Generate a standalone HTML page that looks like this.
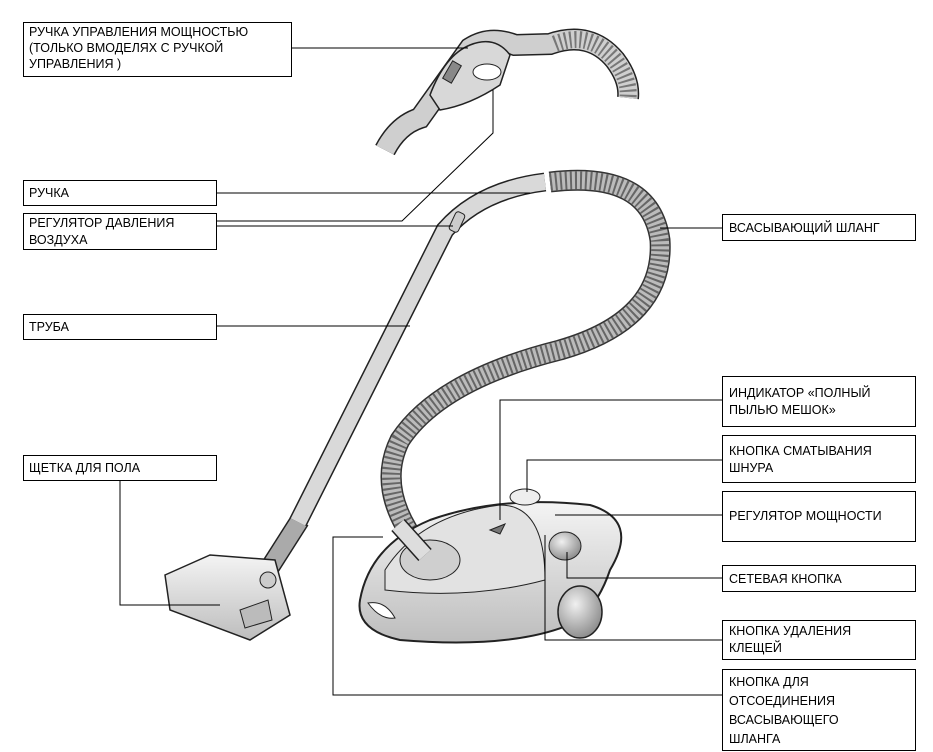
<!DOCTYPE html>
<html><head><meta charset="utf-8"><style>
body{margin:0;background:#fff}
svg{display:block}
text{font-family:"Liberation Sans",Arial,sans-serif;font-size:12.5px;fill:#000}
</style></head><body>
<svg width="933" height="752" viewBox="0 0 933 752" xmlns="http://www.w3.org/2000/svg">
<defs>
<linearGradient id="g1" x1="0" y1="0" x2="0" y2="1"><stop offset="0" stop-color="#f4f4f4"/><stop offset="1" stop-color="#bdbdbd"/></linearGradient>
<radialGradient id="g2" cx="0.4" cy="0.35" r="0.7"><stop offset="0" stop-color="#f0f0f0"/><stop offset="1" stop-color="#888"/></radialGradient>
</defs>
<!-- top handle -->
<path d="M385,150 Q398,125 420,118 L470,48 Q490,35 515,45 L550,44 Q590,30 615,60 Q630,80 628,98" fill="none" stroke="#222" stroke-width="22"/>
<path d="M385,150 Q398,125 420,118 L470,48 Q490,35 515,45 L550,44 Q590,30 615,60 Q630,80 628,98" fill="none" stroke="#cfcfcf" stroke-width="19"/>
<path d="M555,44 Q590,30 615,60 Q630,80 628,98" fill="none" stroke="#777" stroke-width="17" stroke-dasharray="2 3"/>
<path d="M430,95 Q445,55 470,45 Q495,35 510,55 L500,85 Q470,105 440,110 Z" fill="#d8d8d8" stroke="#222" stroke-width="1.5"/>
<ellipse cx="487" cy="72" rx="14" ry="8" fill="#fff" stroke="#222"/>
<rect x="447" y="62" width="10" height="20" fill="#888" stroke="#222" transform="rotate(30 452 72)"/>
<!-- stick handle & pipe -->
<path d="M265,575 L300,520" fill="none" stroke="#222" stroke-width="20"/>
<path d="M265,575 L300,520" fill="none" stroke="#aaa" stroke-width="17"/>
<path d="M298,522 L445,230 Q480,190 545,182" fill="none" stroke="#222" stroke-width="19"/>
<path d="M298,522 L445,230 Q480,190 545,182" fill="none" stroke="#d9d9d9" stroke-width="16"/>
<rect x="452" y="212" width="10" height="20" rx="3" fill="#ccc" stroke="#222" transform="rotate(25 457 222)"/>
<!-- hose -->
<path d="M550,182 Q650,170 660,240 Q665,320 560,350 Q440,380 400,440 Q375,490 420,548" fill="none" stroke="#333" stroke-width="21"/>
<path d="M550,182 Q650,170 660,240 Q665,320 560,350 Q440,380 400,440 Q375,490 420,548" fill="none" stroke="#bbb" stroke-width="18"/>
<path d="M550,182 Q650,170 660,240 Q665,320 560,350 Q440,380 400,440 Q375,490 420,548" fill="none" stroke="#666" stroke-width="18" stroke-dasharray="2 3"/>
<!-- body -->
<path d="M360,600 Q370,545 430,520 Q500,495 590,505 Q640,520 610,570 Q600,600 580,620 Q520,650 400,640 Q355,630 360,600 Z" fill="url(#g1)" stroke="#222" stroke-width="2"/>
<path d="M385,570 Q420,515 500,505 Q545,505 545,580 Q470,600 385,590 Z" fill="#e2e2e2" stroke="#222"/>
<ellipse cx="430" cy="560" rx="30" ry="20" fill="#cfcfcf" stroke="#222"/>
<path d="M398,525 L425,555" stroke="#222" stroke-width="18"/>
<path d="M398,525 L425,555" stroke="#ddd" stroke-width="15"/>
<ellipse cx="525" cy="497" rx="15" ry="8" fill="#eee" stroke="#222"/>
<path d="M490,530 L505,524 L500,534 Z" fill="#777" stroke="#222"/>
<ellipse cx="565" cy="546" rx="16" ry="14" fill="url(#g2)" stroke="#222"/>
<ellipse cx="580" cy="612" rx="22" ry="26" fill="url(#g2)" stroke="#222" stroke-width="1.5"/>
<path d="M368,603 Q380,620 395,618 Q385,600 368,603Z" fill="#fff" stroke="#222"/>
<!-- brush -->
<path d="M165,575 L210,555 L275,560 L290,615 L250,640 L170,610 Z" fill="url(#g1)" stroke="#222" stroke-width="1.5"/>
<path d="M240,610 L268,600 L272,620 L245,628 Z" fill="#bbb" stroke="#222"/>
<circle cx="268" cy="580" r="8" fill="#ccc" stroke="#222"/>
<!-- leader lines -->
<g fill="none" stroke="#000" stroke-width="1">
<path d="M291,48 H468"/>
<path d="M216,221 H402 L493,133 V90"/>
<path d="M216,226 H453"/>
<path d="M216,193 H530"/>
<path d="M216,326 H410"/>
<path d="M120,480 V605 H220"/>
<path d="M660,228 H723"/>
<path d="M723,400 H500 V520"/>
<path d="M723,460 H527 V492"/>
<path d="M723,515 H555"/>
<path d="M723,578 H567 V552"/>
<path d="M723,640 H545 V535"/>
<path d="M723,695 H333 V537 H383"/>
</g>
<!-- boxes -->
<g fill="#fff" stroke="#000" stroke-width="1">
<rect x="23.5" y="22.5" width="268" height="54"/>
<rect x="23.5" y="180.5" width="193" height="25"/>
<rect x="23.5" y="213.5" width="193" height="36"/>
<rect x="23.5" y="314.5" width="193" height="25"/>
<rect x="23.5" y="455.5" width="193" height="25"/>
<rect x="722.5" y="214.5" width="193" height="26"/>
<rect x="722.5" y="376.5" width="193" height="50"/>
<rect x="722.5" y="435.5" width="193" height="47"/>
<rect x="722.5" y="491.5" width="193" height="50"/>
<rect x="722.5" y="565.5" width="193" height="26"/>
<rect x="722.5" y="620.5" width="193" height="39"/>
<rect x="722.5" y="669.5" width="193" height="81"/>
</g>
<text x="29" y="36">РУЧКА УПРАВЛЕНИЯ МОЩНОСТЬЮ</text>
<text x="29" y="52">(ТОЛЬКО ВМОДЕЛЯХ С РУЧКОЙ</text>
<text x="29" y="68">УПРАВЛЕНИЯ )</text>
<text x="29" y="197">РУЧКА</text>
<text x="29" y="227">РЕГУЛЯТОР ДАВЛЕНИЯ</text>
<text x="29" y="244">ВОЗДУХА</text>
<text x="29" y="331">ТРУБА</text>
<text x="29" y="472">ЩЕТКА ДЛЯ ПОЛА</text>
<text x="729" y="232">ВСАСЫВАЮЩИЙ ШЛАНГ</text>
<text x="729" y="397">ИНДИКАТОР «ПОЛНЫЙ</text>
<text x="729" y="414">ПЫЛЬЮ МЕШОК»</text>
<text x="729" y="455">КНОПКА СМАТЫВАНИЯ</text>
<text x="729" y="472">ШНУРА</text>
<text x="729" y="520">РЕГУЛЯТОР МОЩНОСТИ</text>
<text x="729" y="583">СЕТЕВАЯ КНОПКА</text>
<text x="729" y="635">КНОПКА УДАЛЕНИЯ</text>
<text x="729" y="652">КЛЕЩЕЙ</text>
<text x="729" y="686">КНОПКА ДЛЯ</text>
<text x="729" y="705">ОТСОЕДИНЕНИЯ</text>
<text x="729" y="724">ВСАСЫВАЮЩЕГО</text>
<text x="729" y="743">ШЛАНГА</text>
</svg>
</body></html>
